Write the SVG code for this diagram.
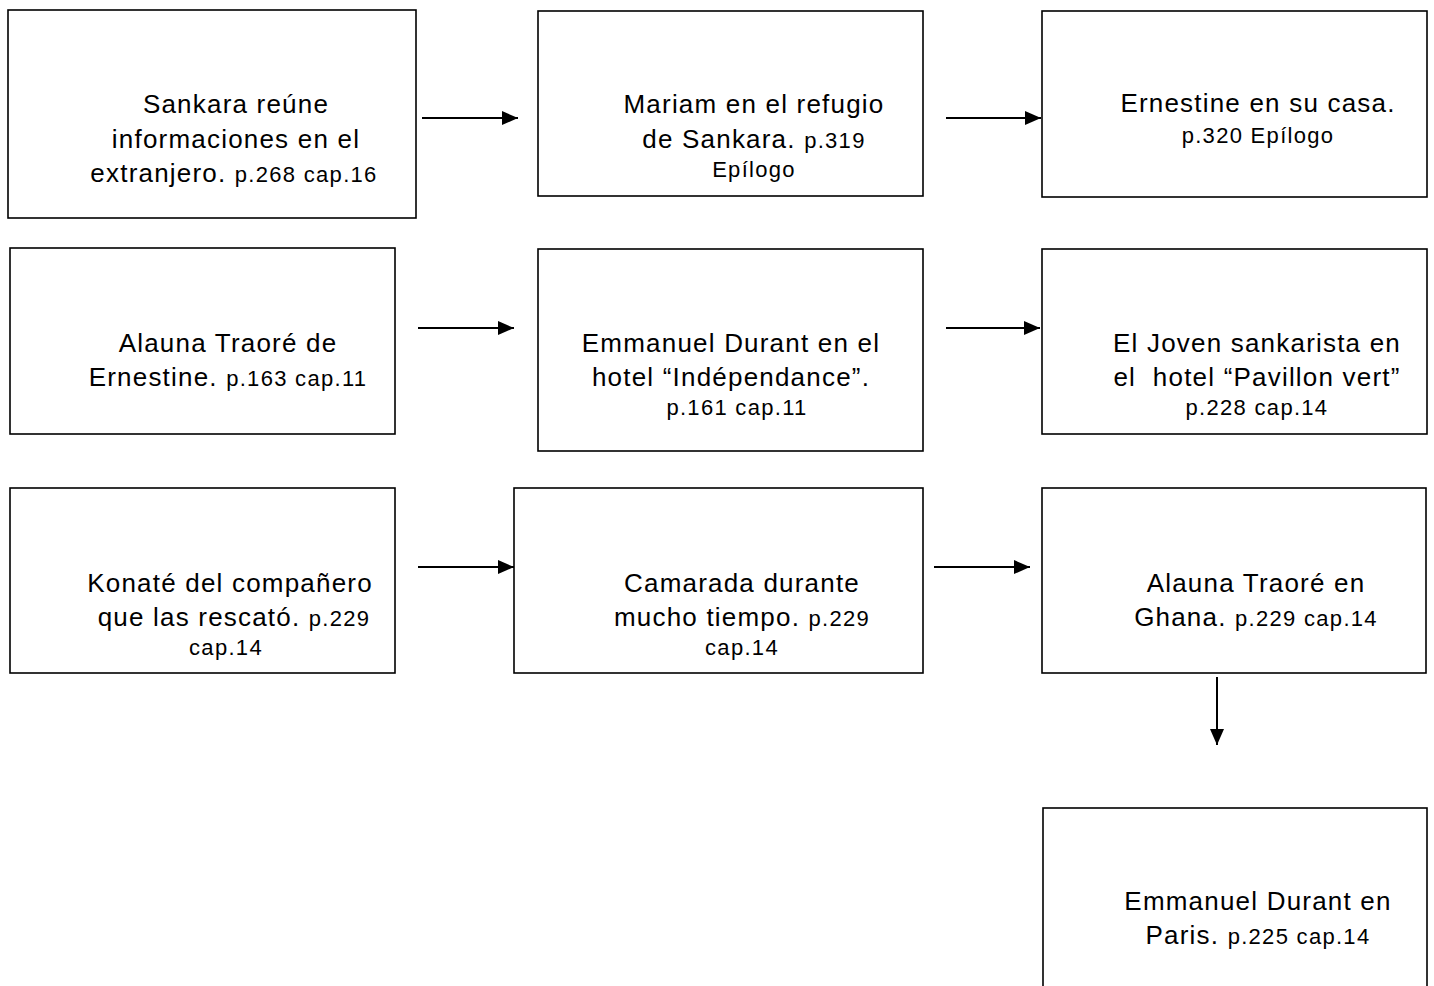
<svg xmlns="http://www.w3.org/2000/svg" width="1434" height="986" viewBox="0 0 1434 986">
<style>
.box{fill:#fff;stroke:#000;stroke-width:1.6}
.t{font-family:"Liberation Sans",Arial,sans-serif;font-size:26px;letter-spacing:1.2px;fill:#000;text-anchor:middle;white-space:pre}
.s{font-size:22px;letter-spacing:1.3px}
.c{stroke:#000;stroke-width:2;fill:none}
</style>
<defs>
<marker id="ah" markerUnits="userSpaceOnUse" markerWidth="18" markerHeight="16" refX="16" refY="7" orient="auto">
<path d="M0,0 L16,7 L0,14 z" fill="#000"/>
</marker>
</defs>
<rect width="1434" height="986" fill="#fff"/>
<g id="n1"><rect class="box" x="8" y="10" width="408" height="208"/>
<text class="t" x="236" y="113">Sankara reúne</text>
<text class="t" x="236" y="148">informaciones en el</text>
<text class="t" x="234" y="182">extranjero. <tspan class="s">p.268 cap.16</tspan></text></g>
<g id="n2"><rect class="box" x="538" y="11" width="385" height="185"/>
<text class="t" x="754" y="113">Mariam en el refugio</text>
<text class="t" x="754" y="148">de Sankara. <tspan class="s">p.319</tspan></text>
<text class="t s" x="754" y="177">Epílogo</text></g>
<g id="n3"><rect class="box" x="1042" y="11" width="385" height="186"/>
<text class="t" x="1258" y="112">Ernestine en su casa.</text>
<text class="t s" x="1258" y="143">p.320 Epílogo</text></g>
<g id="n4"><rect class="box" x="10" y="248" width="385" height="186"/>
<text class="t" x="228" y="352">Alauna Traoré de</text>
<text class="t" x="228" y="386">Ernestine. <tspan class="s">p.163 cap.11</tspan></text></g>
<g id="n5"><rect class="box" x="538" y="249" width="385" height="202"/>
<text class="t" x="731" y="352">Emmanuel Durant en el</text>
<text class="t" x="731" y="386">hotel “Indépendance”.</text>
<text class="t s" x="737" y="415">p.161 cap.11</text></g>
<g id="n6"><rect class="box" x="1042" y="249" width="385" height="185"/>
<text class="t" x="1257" y="352">El Joven sankarista en</text>
<text class="t" x="1257" y="386">el  hotel “Pavillon vert”</text>
<text class="t s" x="1257" y="415">p.228 cap.14</text></g>
<g id="n7"><rect class="box" x="10" y="488" width="385" height="185"/>
<text class="t" x="230" y="592">Konaté del compañero</text>
<text class="t" x="234" y="626">que las rescató. <tspan class="s">p.229</tspan></text>
<text class="t s" x="226" y="655">cap.14</text></g>
<g id="n8"><rect class="box" x="514" y="488" width="409" height="185"/>
<text class="t" x="742" y="592">Camarada durante</text>
<text class="t" x="742" y="626">mucho tiempo. <tspan class="s">p.229</tspan></text>
<text class="t s" x="742" y="655">cap.14</text></g>
<g id="n9"><rect class="box" x="1042" y="488" width="384" height="185"/>
<text class="t" x="1256" y="592">Alauna Traoré en</text>
<text class="t" x="1256" y="626">Ghana. <tspan class="s">p.229 cap.14</tspan></text></g>
<g id="n10"><rect class="box" x="1043" y="808" width="384" height="190"/>
<text class="t" x="1258" y="910">Emmanuel Durant en</text>
<text class="t" x="1258" y="944">Paris. <tspan class="s">p.225 cap.14</tspan></text></g>
<g id="connectors">
<line class="c" x1="422" y1="118" x2="518" y2="118" marker-end="url(#ah)"/>
<line class="c" x1="946" y1="118" x2="1041" y2="118" marker-end="url(#ah)"/>
<line class="c" x1="418" y1="328" x2="514" y2="328" marker-end="url(#ah)"/>
<line class="c" x1="946" y1="328" x2="1040" y2="328" marker-end="url(#ah)"/>
<line class="c" x1="418" y1="567" x2="514" y2="567" marker-end="url(#ah)"/>
<line class="c" x1="934" y1="567" x2="1030" y2="567" marker-end="url(#ah)"/>
<line class="c" x1="1217" y1="677" x2="1217" y2="745" marker-end="url(#ah)"/>
</g>
</svg>
